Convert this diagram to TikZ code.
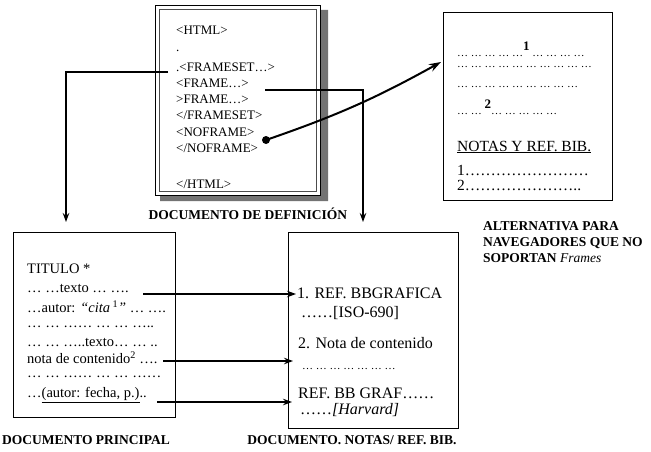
\documentclass[tikz,border=0pt]{standalone}
\usepackage{fontspec}
\setmainfont{Liberation Serif}
\usetikzlibrary{arrows.meta}
\begin{document}
\begin{tikzpicture}[x=1pt,y=-1pt,
  deftxt/.style={anchor=west,inner sep=0pt,font=\fontsize{13}{15}\selectfont},
  maintxt/.style={anchor=west,inner sep=0pt,font=\fontsize{14.5}{16}\selectfont},
  notetxt/.style={anchor=west,inner sep=0pt,font=\fontsize{16}{18}\selectfont},
  alttxt/.style={anchor=west,inner sep=0pt,font=\fontsize{11}{12}\selectfont},
  altbig/.style={anchor=west,inner sep=0pt,font=\fontsize{15.5}{17}\selectfont},
  lbl/.style={inner sep=0pt,font=\fontsize{13.5}{16}\selectfont\bfseries},
  docbox/.style={draw,line width=0.8pt,inner sep=0pt},
  conn/.style={line width=1.1pt},
  tip/.style={-{Stealth[length=9pt,width=6.5pt]}},
  bigarrow/.style={line width=2pt,-{Stealth[length=12pt,width=8pt]}}]
\useasboundingbox (0,0) rectangle (651,452);

% ---- definition document ----
\fill[black!55] (320,10) -- (328,10) -- (328,201) -- (160,201) -- (160,195) -- (320,195) -- cycle;
\node[docbox,minimum width=165pt,minimum height=190pt] (def) at (237.5,100) {};
\draw[black!70,line width=0.6pt] (159,9) rectangle (316,191);
\node[deftxt] (d1) at (176,30) {<HTML>};
\node[deftxt] (d2) at (176,51) {.};
\node[deftxt] (d3) at (176,67) {.<FRAMESET…>};
\node[deftxt] (d4) at (176,83) {<FRAME…>};
\node[deftxt] (d5) at (176,99) {>FRAME…>};
\node[deftxt] (d6) at (176,115) {</FRAMESET>};
\node[deftxt] (d7) at (176,132) {<NOFRAME>};
\node[deftxt] (d8) at (176,148) {</NOFRAME>};
\node[deftxt] (d9) at (176,184) {</HTML>};
\node[lbl] (ldef) at (248,214) {DOCUMENTO DE DEFINICIÓN};

% ---- alternative document ----
\node[docbox,minimum width=169pt,minimum height=188pt] (alt) at (527.5,106) {};
\node[alttxt] (a1) at (457,49) {… … … … …\raisebox{6pt}{\fontsize{13}{13}\selectfont\textbf{1}} … … … …};
\node[alttxt] (a2) at (457,67) {… … … … … … … … … …};
\node[alttxt] (a3) at (457,87) {… … … … … … … … …};
\node[alttxt] (a4) at (457,107) {… … \raisebox{6pt}{\fontsize{13}{13}\selectfont\textbf{2}}… … … … …};
\node[altbig] (a5) at (457,147) {\underline{NOTAS Y REF. BIB.}};
\node[altbig] (a6) at (457,170) {1……………………};
\node[altbig] (a7) at (457,185) {2…………………..};
\node[lbl,anchor=west,align=left] (lalt) at (483,242) {ALTERNATIVA PARA\\NAVEGADORES QUE NO\\SOPORTAN \textmd{\textit{Frames}}};

% ---- main document ----
\node[docbox,minimum width=162pt,minimum height=185pt] (main) at (94,324.5) {};
\node[maintxt] (m1) at (27,269) {TITULO *};
\node[maintxt] (m2) at (27,289) {… …texto … ….};
\node[maintxt] (m3) at (27,307) {…autor: \textit{“cita}\,\textsuperscript{1}\textit{”} … ….};
\node[maintxt] (m4) at (27,327) {… … …… … … …..};
\node[maintxt] (m5) at (27,343) {… … …..texto… … ..};
\node[maintxt] (m6) at (27,358) {nota de contenido\textsuperscript{2} ….};
\node[maintxt] (m7) at (27,377) {… … …… … … ……};
\node[maintxt] (m8) at (27,395) {…\underline{(autor: fecha, p.)}..};
\node[lbl] (lmain) at (86,440) {DOCUMENTO PRINCIPAL};

% ---- notes document ----
\node[docbox,minimum width=170pt,minimum height=196pt] (notes) at (373,330) {};
\node[notetxt] (n1) at (297,293) {1. REF. BBGRAFICA};
\node[notetxt] (n2) at (301,313) {……[ISO-690]};
\node[notetxt] (n3) at (298,343) {2. Nota de contenido};
\node[notetxt,font=\fontsize{11}{12}\selectfont] (n4) at (302,369) {… … … … … … …};
\node[notetxt] (n5) at (298,393) {REF. BB GRAF……};
\node[notetxt] (n6) at (300,410) {……\textit{[Harvard]}};
\node[lbl] (lnotes) at (352,440) {DOCUMENTO. NOTAS/ REF. BIB.};

% ---- connectors ----
\coordinate (fsL) at (168,72);
\coordinate (tipL) at (66,222);
\draw[conn,tip] (fsL) -| (tipL);
\coordinate (frR) at (265,90);
\coordinate (tipR) at (363,222);
\draw[conn,tip] (frR) -| (tipR);
\node[circle,fill,inner sep=0pt,minimum size=8pt] (dot) at (266,140) {};
\coordinate (altTip) at (441,62);
\draw[bigarrow] (dot.center) to[bend right=5] (altTip);

\coordinate (s1) at (143,294);
\coordinate (e1) at (296,294);
\draw[conn,tip] (s1) -- (e1);
\coordinate (s2) at (163,361);
\coordinate (e2) at (293,361);
\draw[conn,tip] (s2) -- (e2);
\coordinate (s3) at (157,402);
\coordinate (e3) at (292,402);
\draw[conn,tip] (s3) -- (e3);
\end{tikzpicture}
\end{document}
